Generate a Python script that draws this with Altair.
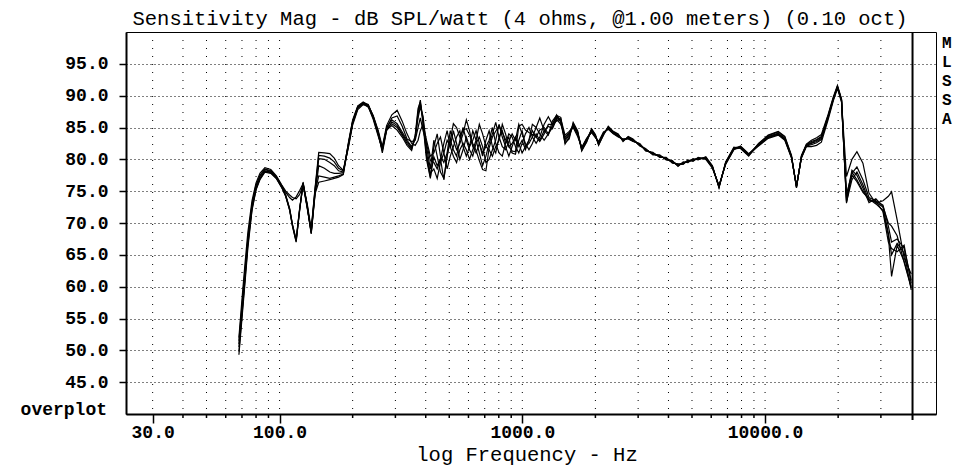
import altair as alt
import pandas as pd

TITLE = "Sensitivity Mag - dB SPL/watt (4 ohms, @1.00 meters) (0.10 oct)"
X_TITLE = "log Frequency - Hz"
BOTTOM_LABEL = "overplot"
SIDE_LETTERS = ["M", "L", "S", "S", "A"]

FREQ_HZ = [
    68, 70, 72, 74, 77, 80, 83, 87, 92, 97,
    102, 106, 110, 113, 117, 121, 125, 130, 135, 140,
    145, 153, 161, 168, 175, 183,
    192, 200, 210, 221, 232, 243, 255,
    265, 276, 290, 305, 320, 335, 350, 362, 372, 380, 390, 403, 418,
    432, 446, 460, 475, 490, 505, 520, 536, 553, 570,
    588, 606, 625, 645, 665, 686, 708, 730, 753, 777,
    802, 827, 853, 880, 908, 937, 967, 998, 1030, 1065,
    1100, 1140, 1180, 1230, 1280, 1330,
    1384, 1440, 1500, 1560, 1620, 1690, 1757, 1840, 1929, 2000,
    2062, 2160, 2260, 2370, 2483, 2600, 2730, 2857, 3044, 3220,
    3449, 3680, 3913, 4150, 4380, 4600, 4810, 5050, 5300, 5700,
    6070, 6460, 6880, 7440, 7920, 8560, 9400, 10300, 11330, 12060,
    12850, 13470, 14120, 14800, 15520, 16300, 17060, 18180, 19100, 19870,
    20650,
    21650, 22800, 23900, 25300, 26800, 28600, 30600, 32200, 33200, 35000, 37400, 40000,
]

CURVE_1 = [
    49.3, 55.0, 60.5, 66.0, 72.0, 75.2, 76.8, 78.0, 77.8, 77.0,
    75.6, 74.2, 72.0, 69.5, 67.0, 72.0, 76.3, 72.5, 68.3, 74.5,
    79.0, 78.6, 78.0, 77.8, 77.8, 77.9,
    82.4, 86.0, 88.2, 88.9, 88.4, 86.6, 84.0,
    81.3, 84.8, 85.6, 85.0, 83.8, 82.5, 81.6, 83.5, 87.5, 89.3, 86.0, 80.5, 77.2,
    80.4, 79.0, 80.1, 76.8, 80.5, 83.0, 85.6, 85.0, 83.5, 84.6,
    84.8, 83.8, 82.5, 81.4, 79.8, 78.4, 78.2, 81.8, 83.5, 84.4,
    85.3, 84.2, 83.1, 82.0, 81.3, 81.2, 85.2, 85.5, 84.6, 84.2,
    83.9, 83.5, 84.6, 85.0, 84.0, 85.3,
    86.8, 86.2, 82.9, 83.8, 85.3, 84.0, 81.6, 83.0, 84.5, 83.7,
    82.5, 84.0, 85.0, 84.2, 83.8, 83.0, 83.4, 83.0, 82.3, 81.5,
    80.9, 80.5, 80.1, 79.6, 79.1, 79.4, 79.7, 79.9, 80.1, 80.2,
    78.8, 75.7, 79.4, 81.7, 81.9, 80.7, 82.3, 83.6, 84.1, 83.3,
    80.4, 75.7, 80.4, 82.2, 82.5, 82.8, 83.3, 86.7, 89.5, 91.4,
    89.3,
    73.1, 78.0, 76.8, 75.0, 73.6, 73.3, 72.5, 68.4, 65.0, 66.8, 65.3, 59.5,
]

CURVE_2 = [
    50.5, 56.0, 61.5, 67.0, 72.5, 75.5, 77.0, 78.2, 78.0, 77.1,
    75.8, 74.4, 72.3, 69.8, 67.4, 72.3, 76.0, 72.3, 68.6, 75.0,
    80.1, 80.0, 79.5, 79.0, 78.2, 78.0,
    82.0, 85.6, 88.0, 88.8, 88.3, 86.3, 83.6,
    81.6, 84.6, 85.3, 84.6, 83.5, 82.2, 81.4, 83.8, 88.0, 89.0, 85.5, 80.0, 77.0,
    82.0, 84.0, 80.5, 79.5, 81.0, 84.5, 83.0, 81.5, 82.5, 84.0,
    86.2, 84.5, 82.0, 81.0, 82.5, 80.5, 83.0, 84.5, 82.0, 81.0,
    83.5, 84.5, 82.5, 83.5, 81.0, 80.8, 83.0, 84.5, 82.0, 82.5,
    83.5, 85.0, 86.5, 84.5, 85.2, 84.8,
    86.3, 85.5, 83.5, 84.2, 85.0, 83.6, 81.9, 83.3, 84.2, 83.4,
    82.8, 84.3, 84.7, 84.0, 83.5, 83.2, 83.2, 82.8, 82.5, 81.3,
    81.1, 80.3, 80.3, 79.4, 79.3, 79.2, 79.9, 79.7, 80.3, 80.0,
    78.6, 75.9, 79.2, 81.5, 82.1, 80.9, 82.1, 83.3, 83.8, 83.0,
    80.2, 75.9, 80.2, 82.0, 82.0, 82.2, 82.7, 86.2, 89.2, 91.1,
    89.0,
    73.5, 77.5, 76.5, 74.8, 73.8, 73.0, 72.0, 68.0, 61.6, 66.5, 64.0, 60.0,
]

CURVE_3 = [
    51.5, 57.0, 62.5, 67.5, 73.0, 76.0, 77.3, 78.4, 78.1, 77.2,
    75.7, 74.3, 72.2, 69.7, 67.3, 72.1, 76.4, 72.8, 68.5, 74.8,
    77.4, 77.2, 77.0, 77.2, 77.4, 77.7,
    82.6, 86.2, 88.4, 89.0, 88.5, 86.8, 84.3,
    81.0, 84.5, 85.9, 85.3, 84.0, 82.8, 81.8, 83.2, 87.0, 88.8, 86.3, 81.0, 77.8,
    78.5, 77.0, 79.5, 81.0, 83.0, 82.0, 84.5, 82.5, 80.0, 81.5,
    83.5, 82.0, 84.5, 83.0, 81.0, 79.0, 80.5, 82.5, 84.0, 85.8,
    83.5, 82.0, 81.5, 82.8, 84.0, 83.0, 85.5, 84.0, 82.5, 81.5,
    82.5, 84.0, 83.0, 84.5, 83.8, 86.0,
    86.9, 86.6, 82.4, 83.5, 85.6, 84.3, 81.3, 82.8, 84.8, 83.9,
    82.3, 83.8, 85.2, 84.4, 84.0, 82.8, 83.6, 83.2, 82.1, 81.7,
    80.7, 80.7, 79.9, 79.8, 78.9, 79.6, 79.5, 80.1, 79.9, 80.4,
    79.0, 75.5, 79.6, 81.9, 81.7, 80.5, 82.5, 83.8, 84.4, 83.6,
    80.6, 75.5, 80.6, 82.4, 83.0, 83.4, 83.9, 87.0, 89.8, 91.6,
    89.5,
    74.5, 77.8, 78.8, 76.8, 74.0, 73.5, 72.8, 69.5, 67.0, 67.5, 66.0, 61.0,
]

CURVE_4 = [
    49.8, 55.5, 61.0, 66.5, 72.2, 75.3, 77.0, 78.1, 77.9, 77.0,
    75.6, 74.2, 72.1, 69.6, 67.1, 72.2, 76.2, 72.6, 68.4, 74.6,
    76.4, 76.6, 76.8, 77.0, 77.2, 77.6,
    82.2, 85.8, 88.1, 88.7, 88.2, 86.5, 83.8,
    81.5, 85.0, 86.2, 85.6, 84.3, 83.0, 82.0, 83.6, 86.5, 88.2, 86.8, 82.0, 78.5,
    83.0, 80.5, 78.0, 77.0, 80.5, 83.0, 81.5, 80.5, 83.0, 85.0,
    83.0, 81.5, 80.5, 82.5, 83.5, 82.0, 79.5, 80.0, 81.5, 83.0,
    85.5, 83.5, 82.0, 80.5, 82.0, 83.5, 82.0, 83.0, 81.5, 83.0,
    84.5, 83.5, 82.8, 84.0, 85.5, 85.5,
    86.0, 86.4, 83.8, 84.4, 85.1, 83.9, 81.8, 83.1, 84.4, 83.5,
    82.6, 84.1, 84.9, 84.1, 83.7, 83.1, 83.3, 82.9, 82.4, 81.4,
    81.0, 80.4, 80.2, 79.5, 79.2, 79.3, 79.8, 79.8, 80.2, 80.1,
    78.7, 75.8, 79.3, 81.6, 81.8, 80.6, 82.2, 83.5, 84.0, 83.1,
    80.3, 75.8, 80.3, 82.1, 82.3, 82.6, 83.1, 86.5, 89.4, 91.3,
    89.2,
    77.3, 80.0, 81.2, 79.4, 74.7, 73.1, 73.5, 74.2, 74.9, 70.5, 64.5, 62.0,
]

CURVE_5 = [
    52.0, 58.0, 63.5, 68.5, 73.5, 76.3, 77.8, 78.7, 78.4, 77.4,
    76.0, 75.0, 74.4, 74.0, 73.8, 74.5, 76.0, 73.0, 69.0, 75.5,
    81.1, 81.0, 80.9, 80.2, 79.0, 78.3,
    81.8, 85.4, 87.8, 88.6, 88.4, 86.9, 84.5,
    82.0, 85.3, 87.0, 87.7, 86.0, 84.0, 82.5, 82.2, 83.0, 84.5, 85.5, 83.0, 80.5,
    81.0, 82.5, 83.5, 81.0, 78.5, 80.5, 82.0, 83.5, 84.5, 82.0,
    80.5, 82.0, 83.0, 84.5, 82.5, 81.0, 82.0, 83.0, 85.0, 82.5,
    81.0, 80.5, 82.5, 84.0, 83.5, 82.0, 81.0, 82.5, 84.0, 85.0,
    83.5, 82.5, 83.5, 85.5, 86.7, 85.5,
    87.0, 85.8, 82.6, 83.2, 85.8, 84.5, 81.4, 82.7, 84.7, 83.8,
    82.2, 83.9, 85.1, 84.3, 83.9, 82.9, 83.5, 83.1, 82.2, 81.6,
    80.8, 80.6, 80.0, 79.7, 79.0, 79.5, 79.6, 80.0, 80.0, 80.3,
    78.9, 75.6, 79.5, 81.8, 82.0, 80.8, 82.4, 83.7, 84.3, 83.5,
    80.5, 75.6, 80.5, 82.3, 82.8, 83.1, 83.6, 86.9, 89.6, 91.5,
    89.4,
    74.0, 78.3, 77.5, 75.5, 73.2, 73.8, 72.6, 70.0, 69.5, 68.0, 63.8, 59.8,
]

CURVE_6 = [
    51.0, 56.5, 62.0, 67.2, 72.8, 75.8, 77.5, 78.5, 78.2, 77.3,
    75.9, 74.8, 74.0, 73.6, 74.1, 75.1, 76.2, 72.5, 68.8, 75.3,
    80.6, 80.5, 80.2, 79.6, 78.6, 78.2,
    82.3, 85.9, 88.3, 88.9, 88.6, 86.7, 84.2,
    81.8, 84.9, 86.5, 86.8, 85.2, 83.2, 82.8, 83.0, 85.0, 86.5, 84.5, 82.5, 79.8,
    79.5, 78.5, 80.0, 82.5, 84.5, 82.0, 80.5, 79.5, 81.5, 82.5,
    81.5, 80.0, 81.5, 83.0, 85.5, 84.0, 82.0, 81.5, 80.5, 82.0,
    83.0, 85.5, 84.0, 82.0, 82.5, 83.5, 82.5, 81.0, 82.0, 83.0,
    85.5, 85.0, 84.0, 83.0, 84.0, 85.0,
    86.5, 86.0, 83.2, 84.0, 85.4, 84.2, 81.7, 83.2, 84.6, 83.6,
    82.4, 84.2, 84.8, 84.1, 83.6, 83.1, 83.3, 82.9, 82.4, 81.5,
    80.9, 80.5, 80.1, 79.6, 79.1, 79.4, 79.7, 79.9, 80.1, 80.2,
    78.8, 75.7, 79.4, 81.7, 81.9, 80.7, 82.3, 83.4, 83.9, 83.2,
    80.4, 75.7, 80.4, 82.2, 82.6, 83.0, 83.5, 86.6, 89.5, 91.3,
    89.3,
    73.3, 76.8, 78.0, 76.0, 73.5, 73.4, 71.8, 67.0, 66.0, 65.5, 66.5, 60.5,
]

CURVES = [CURVE_1, CURVE_2, CURVE_3, CURVE_4, CURVE_5, CURVE_6]

GRID_FREQS = [30, 40, 50, 60, 70, 80, 90,
              100, 200, 300, 400, 500, 600, 700, 800, 900,
              1000, 2000, 3000, 4000, 5000, 6000, 7000, 8000, 9000,
              10000, 20000, 30000]
MAJOR_FREQS = [30, 100, 1000, 10000]
MINOR_FREQS = [f for f in GRID_FREQS if f not in MAJOR_FREQS]
DB_TICKS = [45, 50, 55, 60, 65, 70, 75, 80, 85, 90, 95]
PLOT_END_HZ = 40500

W, H = 810, 382
MONO = "Liberation Mono"

for c in CURVES:
    assert len(c) == len(FREQ_HZ)

rows = []
for i, curve in enumerate(CURVES, start=1):
    for f, v in zip(FREQ_HZ, curve):
        rows.append({"f": f, "db": v, "series": f"run {i}"})
curves_df = pd.DataFrame(rows)

x_scale = alt.Scale(type="log", domain=[23.3, 50600], nice=False)
y_scale = alt.Scale(domain=[40, 100], nice=False, zero=False)

x_axis = alt.Axis(
    values=MAJOR_FREQS, labelExpr="format(datum.value, '.1f')",
    title=None, grid=False, tickSize=9, tickWidth=1.5, tickColor="black",
    domainColor="black", domainWidth=2,
    labelFont=MONO, labelFontWeight="bold", labelFontSize=18,
    labelColor="black", labelPadding=0, labelFlush=False, labelOverlap=False,
)
y_axis = alt.Axis(
    values=DB_TICKS, format=".1f", title=None,
    grid=True, gridDash=[1, 3], gridColor="black", gridWidth=1, gridOpacity=1,
    tickSize=7, tickWidth=1.5, tickColor="black",
    domainColor="black", domainWidth=2,
    labelFont=MONO, labelFontWeight="bold", labelFontSize=18,
    labelColor="black", labelPadding=11, labelFlush=False, labelOverlap=False,
)

X = alt.X("f:Q", scale=x_scale, axis=x_axis)

# dotted vertical grid at every 1-9 x decade position
vgrid = alt.Chart(pd.DataFrame({"f": GRID_FREQS})).mark_rule(
    color="black", strokeWidth=1, strokeDash=[1, 7]
).encode(x=X, y=alt.value(0), y2=alt.value(H))

# short ticks below the frame for the unlabelled positions
minor_ticks = alt.Chart(pd.DataFrame({"f": MINOR_FREQS})).mark_rule(
    color="black", strokeWidth=1.5
).encode(x=X, y=alt.value(H), y2=alt.value(H + 4))

lines = alt.Chart(curves_df).mark_line(
    color="black", strokeWidth=1.2, interpolate="linear"
).encode(
    x=X,
    y=alt.Y("db:Q", scale=y_scale, axis=y_axis),
    detail="series:N",
    order="f:Q",
)

# vertical line closing the data area at the top of the band
divider = alt.Chart(pd.DataFrame({"f": [PLOT_END_HZ]})).mark_rule(
    color="black", strokeWidth=2
).encode(x=X, y=alt.value(0), y2=alt.value(H + 6))

title_text = alt.Chart(pd.DataFrame({"t": [TITLE]})).mark_text(
    font=MONO, fontSize=20.5, color="black", align="center", baseline="alphabetic"
).encode(x=alt.value(394), y=alt.value(-7), text="t:N")

x_title_text = alt.Chart(pd.DataFrame({"t": [X_TITLE]})).mark_text(
    font=MONO, fontSize=20.5, color="black", align="center", baseline="alphabetic"
).encode(x=alt.value(401), y=alt.value(H + 47), text="t:N")

bottom_label = alt.Chart(pd.DataFrame({"t": [BOTTOM_LABEL]})).mark_text(
    font=MONO, fontSize=18, fontWeight="bold", color="black",
    align="right", baseline="middle"
).encode(x=alt.value(-19), y=alt.value(H - 4), text="t:N")

side_df = pd.DataFrame({"t": SIDE_LETTERS, "row": list(range(len(SIDE_LETTERS)))})
side_letters = alt.Chart(side_df).mark_text(
    font=MONO, fontSize=16, fontWeight="bold", color="black",
    align="left", baseline="middle"
).encode(
    x=alt.value(W + 6),
    y=alt.Y("row:Q", scale=alt.Scale(domain=[0, len(SIDE_LETTERS) - 1],
                                      range=[11, 87]), axis=None),
    text="t:N",
)

chart = alt.layer(
    vgrid, minor_ticks, lines, divider,
    title_text, x_title_text, bottom_label, side_letters,
).resolve_scale(y="independent").properties(
    width=W, height=H,
    padding={"left": 126, "top": 32, "right": 19, "bottom": 54},
    autosize=alt.AutoSizeParams(type="none"),
    background="white",
).configure_view(stroke="black", strokeWidth=1)

chart.save("out.html", embed_options={"renderer": "svg", "actions": False})
